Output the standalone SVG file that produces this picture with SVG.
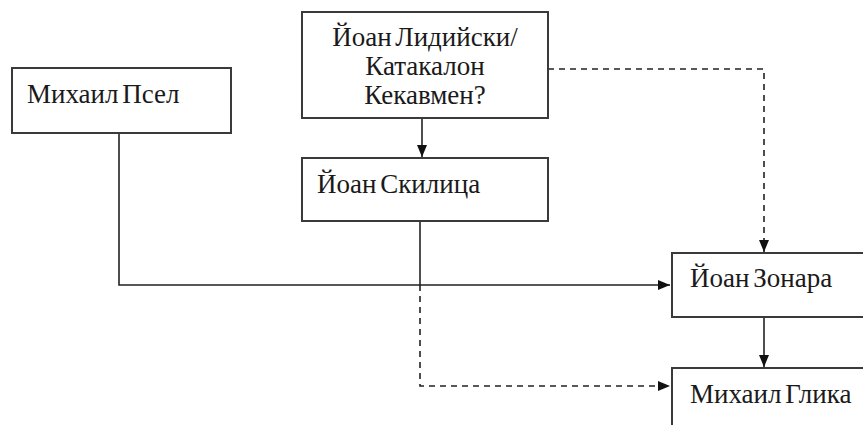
<svg xmlns="http://www.w3.org/2000/svg" width="863" height="425" viewBox="0 0 863 425">
<style>
.box{fill:#fff;stroke:#3a3a3a;stroke-width:2}
.t{font-family:"Liberation Serif","Times New Roman",serif;font-size:27px;fill:#1a1a1a;word-spacing:-3px}
.c{fill:none;stroke:#222;stroke-width:1.6}
.d{stroke-dasharray:6,5}
</style>
<defs>
<marker id="ah" viewBox="0 0 12 10" refX="12" refY="5" markerWidth="12" markerHeight="10" markerUnits="userSpaceOnUse" orient="auto">
<path d="M0,0 L12,5 L0,10 Z" fill="#111"/>
</marker>
</defs>
<rect width="863" height="425" fill="#fff"/>
<g id="connectors">
<path class="c" d="M119,133 V285 H670" marker-end="url(#ah)"/>
<path class="c" d="M422,118 V157" marker-end="url(#ah)"/>
<path class="c d" d="M548,69 H764 V252" marker-end="url(#ah)"/>
<path class="c" d="M420,221 V285"/>
<path class="c d" d="M420,285 V386 H670" marker-end="url(#ah)"/>
<path class="c" d="M764,317 V367" marker-end="url(#ah)"/>
</g>
<g id="psel">
<rect class="box" x="12" y="68" width="219" height="65"/>
<text class="t" x="27" y="103">Михаил Псел</text>
</g>
<g id="lydus">
<rect class="box" x="302" y="12" width="246" height="106"/>
<text class="t" x="425" y="46" text-anchor="middle">Йоан Лидийски/</text>
<text class="t" x="425" y="75" text-anchor="middle">Катакалон</text>
<text class="t" x="425" y="104" text-anchor="middle">Кекавмен?</text>
</g>
<g id="skylitzes">
<rect class="box" x="302" y="158" width="246" height="63"/>
<text class="t" x="317" y="193">Йоан Скилица</text>
</g>
<g id="zonaras">
<rect class="box" x="672" y="253" width="200" height="64"/>
<text class="t" x="690" y="287">Йоан Зонара</text>
</g>
<g id="glykas">
<rect class="box" x="672" y="368" width="200" height="70"/>
<text class="t" x="690" y="403">Михаил Глика</text>
</g>
</svg>
